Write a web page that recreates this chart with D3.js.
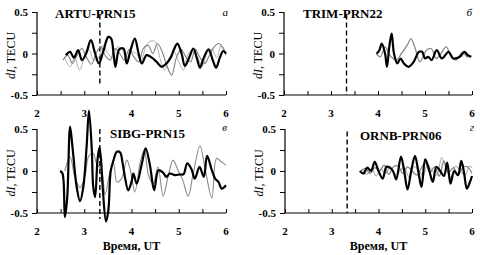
<!DOCTYPE html>
<html><head><meta charset="utf-8">
<script src="https://cdn.jsdelivr.net/npm/d3@7"></script>
<style>body{margin:0;background:#fff}svg{display:block}</style>
</head><body>
<script>
const xTicks = [2, 3, 4, 5, 6];
const yTicks = [0.5, 0, -0.5];
const titles = ["ARTU-PRN15", "TRIM-PRN22", "SIBG-PRN15", "ORNB-PRN06"];
const letters = ["а", "б", "в", "г"];
const eventTime = 3.33;
const yLabel = ["dI", ", TECU"];
const xLabel = "Время, UT";

// Panel а
const aBlackT = [2.61,2.70,2.78,2.87,2.95,3.04,3.14,3.23,3.31,3.40,3.51,3.57,3.62,3.66,3.74,3.83,3.90,3.98,4.07,4.15,4.22,4.32,4.43,4.53,4.64,4.74,4.83,4.90,4.97,5.06,5.13,5.22,5.31,5.38,5.45,5.53,5.63,5.72,5.79,5.87,5.94,6.0];
const aBlackV = [-0.02,0.02,-0.05,0.04,-0.08,0.0,0.16,0.0,-0.12,0.02,0.20,0.18,0.0,-0.16,0.05,0.06,-0.12,0.04,0.18,0.0,-0.12,-0.02,-0.05,-0.10,-0.16,-0.12,-0.05,0.05,0.12,0.0,-0.15,-0.05,0.06,-0.05,-0.17,-0.05,0.05,-0.08,-0.17,-0.05,0.03,0.0];
const aGray1T = [2.55,2.65,2.75,2.85,2.95,3.05,3.15,3.25,3.35,3.45,3.55,3.65,3.75,3.85,3.95,4.05,4.15,4.25,4.35,4.45,4.55,4.65,4.75,4.85,4.95,5.05,5.15,5.25,5.35,5.45,5.55,5.65,5.75,5.85,5.95,6.0];
const aGray1V = [-0.08,-0.02,-0.12,-0.02,0.06,-0.05,-0.13,0.0,0.08,-0.03,-0.08,0.06,0.0,-0.08,0.05,-0.04,-0.10,0.06,0.10,0.0,0.12,0.02,-0.15,-0.26,-0.05,0.05,-0.04,-0.10,0.05,-0.05,-0.12,-0.02,0.08,0.12,0.05,-0.02];
const aGray2T = [2.58,2.7,2.8,2.9,3.0,3.1,3.2,3.3,3.4,3.5,3.6,3.7,3.8,3.9,4.0,4.1,4.2,4.3,4.4,4.5,4.6,4.7,4.8,4.9,5.0,5.1,5.2,5.3,5.4,5.5,5.6,5.7,5.8,5.9,6.0];
const aGray2V = [-0.05,-0.16,-0.05,-0.2,-0.05,0.05,-0.08,-0.05,0.1,0.0,-0.05,0.08,0.05,-0.05,0.02,0.0,-0.08,0.08,0.15,0.14,-0.05,-0.2,-0.05,0.02,-0.1,-0.2,0.0,0.05,-0.05,-0.15,0.0,0.05,-0.05,0.1,0.0];

// Panel б
const bBlackT = [3.97,4.03,4.08,4.15,4.19,4.24,4.29,4.34,4.41,4.48,4.55,4.65,4.76,4.87,4.94,5.0,5.07,5.14,5.25,5.36,5.5,5.6,5.74,5.84,5.91,5.98];
const bBlackV = [0.0,0.04,0.12,0.0,-0.16,0.08,0.24,0.0,-0.12,-0.06,-0.12,-0.16,-0.1,0.02,0.02,-0.06,-0.04,-0.08,0.04,-0.06,0.02,-0.06,-0.04,0.02,-0.02,-0.04];
const bGrayT = [3.96,4.05,4.15,4.25,4.39,4.5,4.64,4.7,4.78,4.89,4.96,5.03,5.13,5.24,5.34,5.45,5.55,5.66,5.8,5.9,6.0];
const bGrayV = [0.0,-0.04,0.08,-0.02,-0.08,0.0,0.12,0.18,0.08,-0.1,-0.04,0.04,0.06,-0.06,0.0,0.08,-0.02,-0.08,0.02,-0.04,-0.03];

// Panel в
const cBlackT = [2.49,2.54,2.59,2.64,2.70,2.75,2.84,2.91,2.98,3.05,3.10,3.16,3.19,3.23,3.28,3.32,3.35,3.39,3.46,3.51,3.56,3.62,3.69,3.76,3.81,3.86,3.93,4.0,4.04,4.11,4.22,4.3,4.39,4.48,4.57,4.67,4.74,4.81,4.92,5.03,5.1,5.18,5.27,5.34,5.44,5.53,5.6,5.7,5.77,5.84,5.91,6.0];
const cBlackV = [0.0,-0.03,-0.55,-0.31,0.53,0.29,-0.19,-0.36,-0.19,0.29,0.72,0.25,-0.19,-0.31,0.13,0.28,0.17,-0.19,-0.6,-0.47,0.0,0.13,0.23,0.22,0.1,-0.07,-0.23,-0.13,-0.03,-0.15,0.09,0.27,0.07,-0.23,0.01,-0.02,-0.07,-0.03,-0.05,-0.04,-0.04,0.09,0.02,-0.09,0.05,-0.07,0.18,0.01,-0.09,-0.13,-0.21,-0.17];
const cGrayT = [2.59,2.70,2.80,2.91,3.02,3.09,3.19,3.26,3.37,3.44,3.55,3.62,3.69,3.79,3.90,3.98,4.07,4.18,4.27,4.36,4.46,4.56,4.67,4.78,4.88,4.99,5.08,5.2,5.3,5.45,5.55,5.7,5.8,5.9,6.0];
const cGrayV = [0.0,0.17,-0.07,-0.2,-0.05,0.17,0.21,0.09,0.0,-0.28,0.0,0.09,-0.13,-0.09,0.13,0.0,-0.25,0.09,0.25,-0.05,-0.15,0.05,-0.3,-0.05,0.13,0.0,-0.1,-0.3,-0.05,0.3,0.05,-0.32,0.15,0.11,0.07];

// Panel г
const dBlackT = [3.6,3.68,3.76,3.84,3.92,4.0,4.09,4.17,4.24,4.31,4.38,4.48,4.55,4.62,4.7,4.78,4.85,4.92,5.0,5.08,5.16,5.24,5.32,5.4,5.47,5.54,5.62,5.7,5.77,5.83,5.89,5.95,6.0];
const dBlackV = [0.0,-0.03,0.04,0.0,0.11,0.0,-0.09,0.05,0.04,0.0,-0.1,0.17,0.0,-0.22,0.0,0.18,0.0,-0.19,0.14,0.02,-0.13,0.05,0.0,-0.06,0.1,-0.15,0.0,-0.05,0.12,-0.02,-0.21,-0.14,-0.06];
const dGray1T = [3.62,3.72,3.82,3.92,4.02,4.12,4.22,4.32,4.42,4.52,4.62,4.72,4.82,4.92,5.0,5.1,5.2,5.3,5.4,5.5,5.6,5.7,5.8,5.9,6.0];
const dGray1V = [0.0,0.03,-0.03,0.04,0.0,0.07,-0.04,0.05,0.06,-0.03,0.05,0.0,-0.05,0.04,0.1,-0.02,0.05,-0.06,0.12,-0.02,0.04,-0.05,0.04,0.05,-0.03];
const dGray2T = [3.65,3.75,3.85,3.95,4.05,4.15,4.25,4.35,4.45,4.55,4.65,4.75,4.85,4.95,5.05,5.15,5.25,5.35,5.45,5.55,5.65,5.75,5.85,5.95,6.0];
const dGray2V = [0.02,-0.04,0.03,-0.06,0.02,-0.03,0.06,-0.05,0.0,0.04,-0.07,0.05,0.02,-0.06,0.08,0.0,-0.05,0.16,0.02,-0.08,0.06,0.0,-0.05,0.06,0.04];

const panels = [
  {x0:37, x1:226, y0:12, y1:95, title:{x:55, y:18}, letter:{x:228, y:16}, dash:[0.47,-0.38], xlab:false,
   series:[[aGray2T,aGray2V,"#b0b0b0",1],[aGray1T,aGray1V,"#808080",1.1],[aBlackT,aBlackV,"#000",2.2]]},
  {x0:284, x1:472, y0:12, y1:95, title:{x:303, y:18}, letter:{x:472, y:16}, dash:[0.47,-0.5], xlab:false,
   series:[[bGrayT,bGrayV,"#8a8a8a",1.3],[bBlackT,bBlackV,"#000",2.2]]},
  {x0:37, x1:226, y0:129, y1:213, title:{x:110, y:138}, letter:{x:227, y:131}, dash:[0.5,-0.57], xlab:true,
   series:[[cGrayT,cGrayV,"#8a8a8a",1.1],[cBlackT,cBlackV,"#000",2.2]]},
  {x0:285, x1:472, y0:129, y1:213, title:{x:360, y:140}, letter:{x:474, y:131}, dash:[0.47,-0.5], xlab:true,
   series:[[dGray2T,dGray2V,"#b0b0b0",1.1],[dGray1T,dGray1V,"#808080",1.2],[dBlackT,dBlackV,"#000",2.2]]}
];

const svg = d3.select("body").append("svg").attr("width",480).attr("height",255)
  .style("font-family","'Liberation Serif','Times New Roman',serif");

panels.forEach((p,i)=>{
  const x = d3.scaleLinear().domain([2,6]).range([p.x0,p.x1]);
  const y = d3.scaleLinear().domain([-0.5,0.5]).range([p.y1,p.y0]);
  const g = svg.append("g");

  // x axis
  const xa = g.append("g").attr("transform",`translate(0,${p.y1})`)
    .call(d3.axisBottom(x).tickValues(d3.range(2,6.01,0.5)).tickSize(-4).tickFormat(""));
  xa.select(".domain").attr("stroke","#000").attr("stroke-width",1.2).attr("d",`M${p.x0},0H${p.x1}`);
  xa.selectAll(".tick line").attr("stroke","#000").attr("stroke-width",1);
  xTicks.forEach(t=>{
    g.append("text").attr("x",x(t)).attr("y",p.y1+22).attr("text-anchor","middle")
      .attr("font-size",11).attr("font-weight","bold").text(t);
  });

  // y axis
  const ya = g.append("g").attr("transform",`translate(${p.x0},0)`)
    .call(d3.axisLeft(y).tickValues(d3.range(-0.5,0.51,0.25)).tickSize(5).tickFormat(""));
  ya.select(".domain").attr("stroke","#000").attr("stroke-width",1.2).attr("d",`M0,${p.y0}V${p.y1}`);
  ya.selectAll(".tick line").attr("stroke","#000").attr("stroke-width",1);
  yTicks.forEach(t=>{
    g.append("text").attr("x",p.x0-9).attr("y",y(t)+4).attr("text-anchor","end")
      .attr("font-size",11).attr("font-weight","bold").text(t===0?"0":String(t));
  });

  // y label
  const yl = g.append("text").attr("transform",`translate(${p.x0-22},${(p.y0+p.y1)/2+2}) rotate(-90)`)
    .attr("text-anchor","middle").attr("font-size",12);
  yl.append("tspan").attr("font-style","italic").text(yLabel[0]);
  yl.append("tspan").text(yLabel[1]);

  // dashed event line
  g.append("line").attr("x1",x(eventTime)).attr("x2",x(eventTime))
    .attr("y1",y(p.dash[0])).attr("y2",y(p.dash[1]))
    .attr("stroke","#000").attr("stroke-width",1.4).attr("stroke-dasharray","5,3");

  // series
  const line = d3.line().x(d=>x(d[0])).y(d=>y(d[1])).curve(d3.curveCatmullRom.alpha(0.5));
  p.series.forEach(s=>{
    const data = s[0].map((t,k)=>[t,s[1][k]]);
    g.append("path").datum(data).attr("d",line).attr("fill","none")
      .attr("stroke",s[2]).attr("stroke-width",s[3]).attr("stroke-linejoin","round");
  });

  // title and letter
  g.append("text").attr("x",p.title.x).attr("y",p.title.y).attr("font-size",13)
    .attr("font-weight","bold").text(titles[i]);
  g.append("text").attr("x",p.letter.x).attr("y",p.letter.y).attr("text-anchor","end")
    .attr("font-size",11).attr("font-style","italic").text(letters[i]);

  if (p.xlab) {
    g.append("text").attr("x",(p.x0+p.x1)/2).attr("y",p.y1+37).attr("text-anchor","middle")
      .attr("font-size",12).attr("font-weight","bold").text(xLabel);
  }
});
</script>
</body></html>
